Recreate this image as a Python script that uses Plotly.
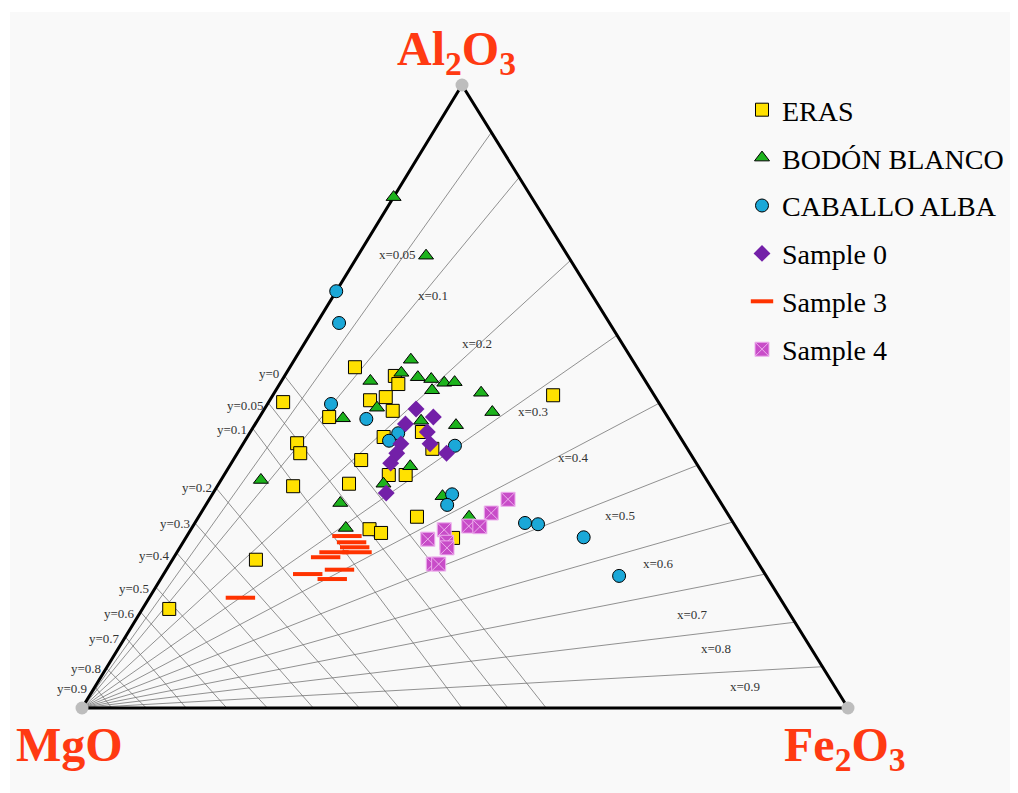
import plotly.graph_objects as go

# ---------------- data (wt %, Al2O3 / Fe2O3 / MgO) ----------------
eras_al = [54.7, 49.1, 46.7, 49.4, 49.9, 53.3, 52.0, 47.7, 43.5, 44.3, 41.6, 39.8, 37.4, 37.4,
           36.0, 42.5, 40.9, 35.6, 23.8, 15.9, 30.7, 28.7, 28.1, 27.3, 50.2]
eras_fe = [8.5, 1.9, 9.1, 13.1, 14.9, 14.4, 15.5, 16.9, 17.8, 22.4, 25.1, 16.7, 21.5, 23.7,
           17.0, 7.0, 8.2, 9.9, 10.9, 3.5, 28.5, 23.3, 25.1, 34.9, 36.6]
eras_mg = [36.8, 49.0, 44.2, 37.5, 35.2, 32.3, 32.5, 35.4, 38.7, 33.3, 33.3, 43.5, 41.1, 38.9,
           47.0, 50.5, 50.9, 54.5, 65.3, 80.6, 40.8, 48.0, 46.8, 37.8, 13.2]

bodon_al = [82.0, 72.6, 55.9, 52.5, 53.8, 53.1, 52.8, 52.2, 52.3, 51.0, 50.6, 47.5, 46.5, 48.2,
            46.1, 45.4, 38.8, 36.0, 34.0, 30.7, 28.9, 32.9, 36.6]
bodon_fe = [0.0, 8.9, 15.2, 11.6, 15.0, 17.5, 19.4, 21.4, 22.7, 20.4, 27.0, 30.0, 11.0, 14.6,
            21.4, 26.3, 23.6, 21.5, 30.2, 35.3, 20.1, 17.4, 5.2]
bodon_mg = [18.0, 18.5, 28.9, 35.9, 31.2, 29.4, 27.8, 26.4, 25.0, 28.6, 22.4, 22.5, 42.5, 37.2,
            32.5, 28.3, 37.6, 42.5, 35.8, 34.0, 51.0, 49.7, 58.2]

caballo_al = [66.9, 61.8, 48.8, 46.4, 44.1, 42.9, 42.1, 34.3, 32.6, 29.7, 29.5, 27.4, 21.2]
caballo_fe = [0.0, 2.9, 8.3, 14.1, 19.4, 18.8, 27.8, 31.3, 31.5, 43.1, 44.9, 51.9, 59.6]
caballo_mg = [33.1, 35.3, 42.9, 39.5, 36.5, 38.3, 30.1, 34.4, 35.9, 27.2, 25.6, 20.7, 19.2]

s0_al = [48.0, 46.7, 45.6, 44.3, 42.4, 42.4, 40.9, 40.9, 39.3, 34.5]
s0_fe = [19.8, 22.7, 19.6, 23.1, 20.6, 24.4, 20.8, 27.3, 20.8, 22.6]
s0_mg = [32.2, 30.6, 34.8, 32.6, 37.0, 33.2, 38.3, 31.8, 39.9, 42.9]

s3_al = [27.6, 26.6, 25.8, 25.0, 25.0, 24.2, 21.5, 22.2, 20.7, 17.7]
s3_fe = [20.9, 22.0, 22.8, 23.5, 20.5, 19.8, 18.8, 22.6, 22.4, 11.9]
s3_mg = [51.5, 51.4, 51.4, 51.5, 54.5, 56.0, 59.7, 55.2, 56.9, 70.4]

s4_al = [33.5, 31.3, 29.2, 29.1, 28.6, 27.1, 26.6, 25.7, 23.1, 23.1]
s4_fe = [39.0, 37.9, 36.0, 37.5, 33.1, 31.7, 34.4, 34.9, 34.4, 35.1]
s4_mg = [27.5, 30.8, 34.8, 33.4, 38.3, 41.2, 39.0, 39.4, 42.5, 41.8]

# grid parameters
x_vals = [0.05, 0.1, 0.2, 0.3, 0.4, 0.5, 0.6, 0.7, 0.8, 0.9]
y_vals = [0, 0.05, 0.1, 0.2, 0.3, 0.4, 0.5, 0.6, 0.7, 0.8, 0.9]
y_left_al = [53.3, 49.0, 44.9, 35.3, 29.7, 24.9, 19.4, 15.4, 11.4, 6.4, 3.4]
y_bottom_fe = [60.6, 55.6, 49.6, 41.4, 36.2, 30.2, 24.2, 18.9, 13.6, 8.4, 3.9]

M_FE2O3, M_AL2O3 = 159.69, 101.96

# ---------------- projection (ternary -> plane) ----------------
PAGE = 8                        # default page margin around the plot div
W, H = 1018 - PAGE, 793 - PAGE  # figure size
X0, Y0, S = 82 - PAGE, 708 - PAGE, 766   # MgO vertex (figure px) and base length
AX, AY = 380 / S, 623 / S       # apex offset (diagram is slightly squashed)


def proj(al, fe):
    xs = [f / 100 + AX * a / 100 for a, f in zip(al, fe)]
    ys = [AY * a / 100 for a in al]
    return xs, ys


def pix(px, py):
    """screen pixel of the reference -> plane coordinates"""
    return (px - PAGE - X0) / S, (Y0 - (py - PAGE)) / S


fig = go.Figure()

# background panel
fig.add_shape(type="rect", xref="paper", yref="paper", x0=2 / W, x1=1, y0=0, y1=1 - 4 / H,
              fillcolor="#F9F9F9", line_width=0, layer="below")

GRID = "rgba(110,110,110,0.75)"
gx, gy = [], []
# x lines: from MgO vertex to Al2O3-Fe2O3 edge (molar Fe/(Fe+Al) = x)
for x in x_vals:
    f = 100 * M_FE2O3 * x / (M_FE2O3 * x + M_AL2O3 * (1 - x))
    xs, ys = proj([0, 100 - f], [0, f])
    gx += xs + [None]
    gy += ys + [None]
# y lines: from Al2O3-MgO edge to MgO-Fe2O3 edge
for al, fe in zip(y_left_al, y_bottom_fe):
    xs, ys = proj([al, 0], [0, fe])
    gx += xs + [None]
    gy += ys + [None]
fig.add_trace(go.Scatter(x=gx, y=gy, mode="lines", line=dict(color=GRID, width=1),
                         hoverinfo="skip", showlegend=False))

# triangle
tx, ty = proj([100, 0, 0, 100], [0, 0, 100, 0])
fig.add_trace(go.Scatter(x=tx, y=ty, mode="lines", line=dict(color="black", width=3),
                         hoverinfo="skip", showlegend=False))
vx, vy = proj([100, 0, 0], [0, 0, 100])
fig.add_trace(go.Scatter(x=vx, y=vy, mode="markers", marker=dict(color="#BDBDBD", size=13),
                         hoverinfo="skip", showlegend=False))

series = [
    ("ERAS", eras_al, eras_fe, dict(symbol="square", size=13, color="#FFE100",
                                    line=dict(color="black", width=1))),
    ("BODÓN BLANCO", bodon_al, bodon_fe, dict(symbol="triangle-up", size=13, color="#1DB31D",
                                              line=dict(color="black", width=1))),
    ("CABALLO ALBA", caballo_al, caballo_fe, dict(symbol="circle", size=13, color="#1BA8D8",
                                                  line=dict(color="black", width=1))),
    ("Sample 0", s0_al, s0_fe, dict(symbol="diamond", size=13, color="#7320A8",
                                    line=dict(width=0))),
    ("Sample 3", s3_al, s3_fe, dict(symbol="line-ew", size=21,
                                    line=dict(color="#FF3300", width=4))),
    ("Sample 4", s4_al, s4_fe, dict(symbol="square-x", size=14, color="#C84CC8",
                                    line=dict(color="#EDB0ED", width=1))),
]
for i, (name, al, fe, mk) in enumerate(series):
    xs, ys = proj(al, fe)
    fig.add_trace(go.Scatter(x=xs, y=ys, mode="markers", name=name, marker=mk,
                             legendgroup=f"g{i}"))

ann = []
LAB = dict(family="Liberation Serif", size=48, color="#FF3A12")
for txt, (px, py) in [("<b>Al<sub>2</sub>O<sub>3</sub></b>", (456, 52)),
                      ("<b>MgO</b>", (69, 744)),
                      ("<b>Fe<sub>2</sub>O<sub>3</sub></b>", (845, 748))]:
    X, Y = pix(px, py)
    ann.append(dict(x=X, y=Y, text=txt, showarrow=False, font=LAB, xanchor="center", yanchor="middle"))

SMALL = dict(family="Liberation Serif", size=13, color="#333333")
x_label_pos = [(397, 254), (433, 295), (477, 343), (533, 411), (573, 457), (620, 515),
               (658, 563), (692, 614), (716, 648), (745, 686)]
for v, (px, py) in zip(x_vals, x_label_pos):
    X, Y = pix(px, py)
    ann.append(dict(x=X, y=Y, text=f"x={v:g}", showarrow=False, font=SMALL))
y_label_pos = [(269, 373), (245, 405), (232, 429), (197, 487), (175, 523), (154, 555),
               (134, 588), (119, 613), (104, 638), (86, 668), (72, 688)]
for v, (px, py) in zip(y_vals, y_label_pos):
    X, Y = pix(px, py)
    ann.append(dict(x=X, y=Y, text=f"y={v:g}", showarrow=False, font=SMALL))

fig.update_layout(
    width=W, height=H, margin=dict(l=0, r=0, t=0, b=0),
    paper_bgcolor="white", plot_bgcolor="rgba(0,0,0,0)",
    xaxis=dict(range=[-X0 / S, (W - X0) / S], visible=False, fixedrange=True),
    yaxis=dict(range=[(Y0 - H) / S, Y0 / S], visible=False, fixedrange=True),
    annotations=ann,
    legend=dict(x=(742 - PAGE) / W, y=1 - (85 - PAGE) / H, xanchor="left", yanchor="top",
                bgcolor="rgba(0,0,0,0)",
                font=dict(family="Liberation Serif", size=28, color="black"),
                traceorder="grouped", tracegroupgap=8.5, itemsizing="trace"),
    showlegend=True,
)

fig.write_html("out.html")
